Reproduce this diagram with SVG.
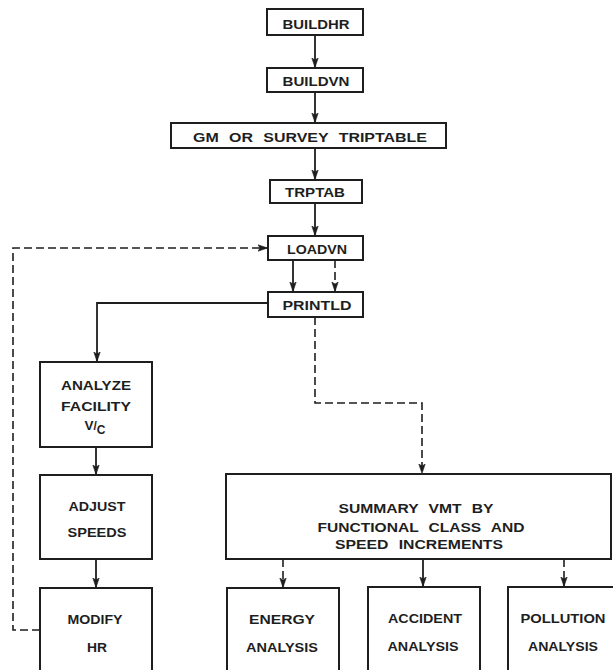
<svg xmlns="http://www.w3.org/2000/svg" width="613" height="670" viewBox="0 0 613 670">
<style>
.box{fill:#fff;stroke:#1e1e1e;stroke-width:2}
.t{font-family:"Liberation Sans",Arial,sans-serif;font-weight:bold;font-size:13.5px;fill:#1e1e1e;text-anchor:middle}
.w{word-spacing:5px}
.s{fill:none;stroke:#1e1e1e;stroke-width:1.8}
.d{fill:none;stroke:#1e1e1e;stroke-width:1.6;stroke-dasharray:8 4}
</style>
<defs>
<marker id="ah" markerWidth="10" markerHeight="8" refX="9" refY="4" orient="auto" markerUnits="userSpaceOnUse" viewBox="0 0 10 8">
<path d="M0,0.8 L9.5,4 L0,7.2 L2,4 z" fill="#1e1e1e" stroke="#1e1e1e" stroke-width="0.6"/>
</marker>
</defs>
<rect width="613" height="670" fill="#fff"/>
<g id="connectors">
<line class="s" x1="315" y1="35" x2="315" y2="67" marker-end="url(#ah)"/>
<line class="s" x1="315" y1="92" x2="315" y2="122" marker-end="url(#ah)"/>
<line class="s" x1="315" y1="148" x2="315" y2="179" marker-end="url(#ah)"/>
<line class="s" x1="315" y1="203" x2="315" y2="235" marker-end="url(#ah)"/>
<line class="s" x1="293" y1="260" x2="293" y2="291" marker-end="url(#ah)"/>
<line class="d" x1="335" y1="260" x2="335" y2="291" marker-end="url(#ah)"/>
<polyline class="s" points="268,303 97,303 97,361" marker-end="url(#ah)"/>
<polyline class="d" points="315,317 315,403 422,403 422,473" marker-end="url(#ah)"/>
<polyline class="d" points="40,630 13,630 13,248 267,248" marker-end="url(#ah)"/>
<line class="s" x1="96" y1="447" x2="96" y2="474" marker-end="url(#ah)"/>
<line class="s" x1="96" y1="559" x2="96" y2="587" marker-end="url(#ah)"/>
<line class="d" x1="283" y1="559" x2="283" y2="587" marker-end="url(#ah)"/>
<line class="s" x1="423" y1="559" x2="423" y2="586" marker-end="url(#ah)"/>
<line class="d" x1="564" y1="559" x2="564" y2="586" marker-end="url(#ah)"/>
</g>
<g id="buildhr"><rect class="box" x="267" y="9" width="96" height="26"/><text class="t" x="316" y="29" textLength="67" lengthAdjust="spacingAndGlyphs">BUILDHR</text></g>
<g id="buildvn"><rect class="box" x="267" y="68" width="96" height="24"/><text class="t" x="316" y="86" textLength="67" lengthAdjust="spacingAndGlyphs">BUILDVN</text></g>
<g id="triptable"><rect class="box" x="171" y="123" width="275" height="25"/><text class="t w" x="310" y="142" textLength="234" lengthAdjust="spacingAndGlyphs">GM OR SURVEY TRIPTABLE</text></g>
<g id="trptab"><rect class="box" x="270" y="180" width="92" height="23"/><text class="t" x="315" y="197" textLength="60" lengthAdjust="spacingAndGlyphs">TRPTAB</text></g>
<g id="loadvn"><rect class="box" x="268" y="236" width="95" height="24"/><text class="t" x="317" y="254" textLength="60" lengthAdjust="spacingAndGlyphs">LOADVN</text></g>
<g id="printld"><rect class="box" x="268" y="292" width="95" height="25"/><text class="t" x="317" y="310" textLength="69" lengthAdjust="spacingAndGlyphs">PRINTLD</text></g>
<g id="analyze"><rect class="box" x="40" y="362" width="112" height="85"/>
<text class="t" x="96" y="390" textLength="70" lengthAdjust="spacingAndGlyphs">ANALYZE</text>
<text class="t" x="96" y="411" textLength="70" lengthAdjust="spacingAndGlyphs">FACILITY</text>
<text class="t" x="95" y="430" font-size="13">V<tspan font-size="12">/</tspan><tspan dy="4" font-size="12">C</tspan></text></g>
<g id="adjust"><rect class="box" x="40" y="475" width="112" height="84"/>
<text class="t" x="97" y="511" textLength="57" lengthAdjust="spacingAndGlyphs">ADJUST</text>
<text class="t" x="97" y="537" textLength="59" lengthAdjust="spacingAndGlyphs">SPEEDS</text></g>
<g id="modify"><rect class="box" x="40" y="588" width="112" height="95"/>
<text class="t" x="95" y="624" textLength="55" lengthAdjust="spacingAndGlyphs">MODIFY</text>
<text class="t" x="97" y="652" textLength="20" lengthAdjust="spacingAndGlyphs">HR</text></g>
<g id="summary"><rect class="box" x="226" y="474" width="385" height="85"/>
<text class="t w" x="416" y="513" textLength="155" lengthAdjust="spacingAndGlyphs">SUMMARY VMT BY</text>
<text class="t w" x="421" y="532" textLength="207" lengthAdjust="spacingAndGlyphs">FUNCTIONAL CLASS AND</text>
<text class="t w" x="419" y="549" textLength="168" lengthAdjust="spacingAndGlyphs">SPEED INCREMENTS</text></g>
<g id="energy"><rect class="box" x="227" y="588" width="112" height="95"/>
<text class="t" x="282" y="624" textLength="66" lengthAdjust="spacingAndGlyphs">ENERGY</text>
<text class="t" x="282" y="652" textLength="72" lengthAdjust="spacingAndGlyphs">ANALYSIS</text></g>
<g id="accident"><rect class="box" x="368" y="587" width="112" height="96"/>
<text class="t" x="425" y="623" textLength="74" lengthAdjust="spacingAndGlyphs">ACCIDENT</text>
<text class="t" x="423" y="651" textLength="71" lengthAdjust="spacingAndGlyphs">ANALYSIS</text></g>
<g id="pollution"><rect class="box" x="508" y="587" width="112" height="96"/>
<text class="t" x="563" y="623" textLength="85" lengthAdjust="spacingAndGlyphs">POLLUTION</text>
<text class="t" x="563" y="651" textLength="70" lengthAdjust="spacingAndGlyphs">ANALYSIS</text></g>
</svg>
